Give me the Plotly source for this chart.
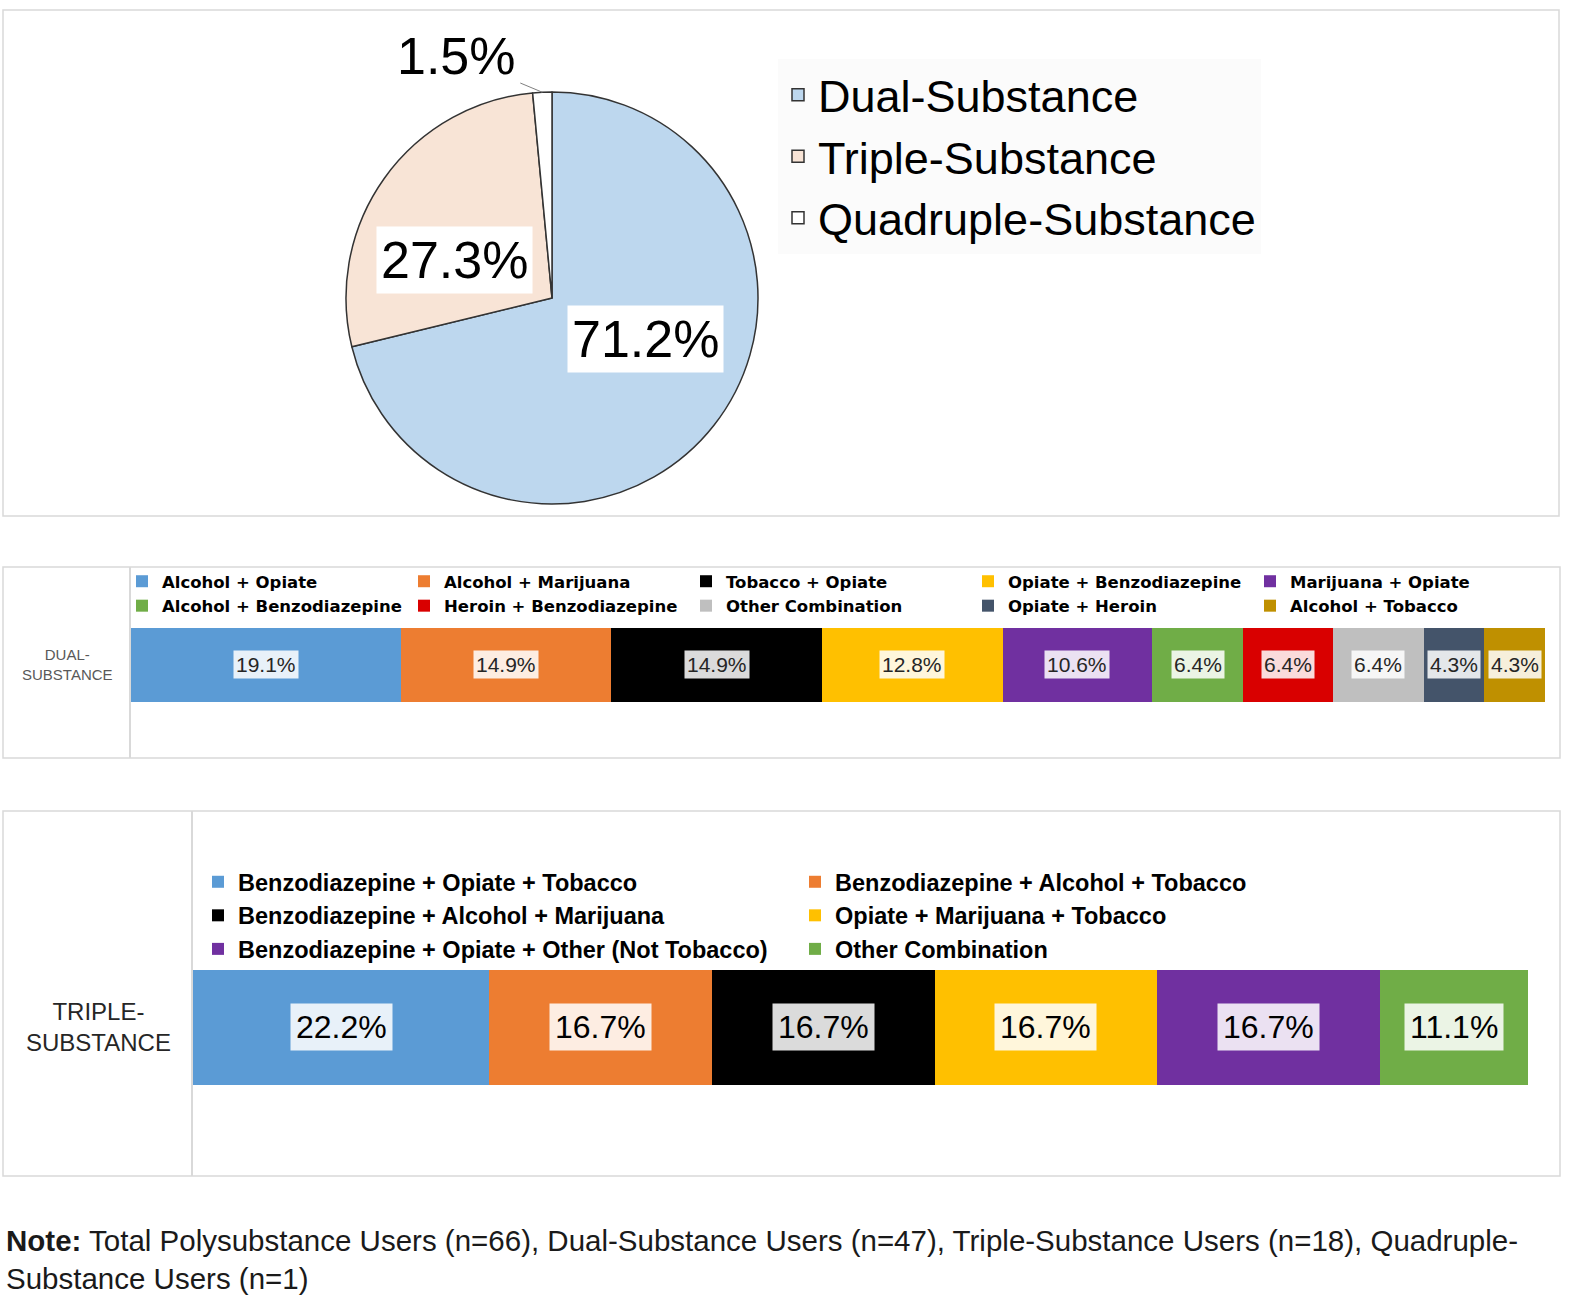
import math
import plotly.graph_objects as go

W, H = 1580, 1300

# ---------------- data ----------------
pie_labels = ["Dual-Substance", "Triple-Substance", "Quadruple-Substance"]
pie_values = [71.2, 27.3, 1.5]
pie_colors = ["#BDD7EE", "#F8E4D6", "#FFFFFF"]

dual_category = "DUAL-SUBSTANCE"
dual_labels = ["Alcohol + Opiate", "Alcohol + Marijuana", "Tobacco + Opiate",
               "Opiate + Benzodiazepine", "Marijuana + Opiate",
               "Alcohol + Benzodiazepine", "Heroin + Benzodiazepine",
               "Other Combination", "Opiate + Heroin", "Alcohol + Tobacco"]
dual_values = [19.1, 14.9, 14.9, 12.8, 10.6, 6.4, 6.4, 6.4, 4.3, 4.3]
dual_colors = ["#5B9BD5", "#ED7D31", "#000000", "#FFC000", "#7030A0",
               "#70AD47", "#D90000", "#BFBFBF", "#44546A", "#BF9000"]

triple_category = "TRIPLE-SUBSTANCE"
triple_labels = ["Benzodiazepine + Opiate + Tobacco",
                 "Benzodiazepine + Alcohol + Tobacco",
                 "Benzodiazepine + Alcohol + Marijuana",
                 "Opiate + Marijuana + Tobacco",
                 "Benzodiazepine + Opiate + Other (Not Tobacco)",
                 "Other Combination"]
triple_values = [22.2, 16.7, 16.7, 16.7, 16.7, 11.1]
triple_colors = ["#5B9BD5", "#ED7D31", "#000000", "#FFC000", "#7030A0", "#70AD47"]

note_bold = "Note:"
note_line1 = ("Total Polysubstance Users (n=66), Dual-Substance Users (n=47), "
              "Triple-Substance Users (n=18), Quadruple-")
note_line2 = "Substance Users (n=1)"

# ---------------- helpers ----------------
def px(p):
    return p / W


def py(p):
    return 1 - p / H


FONT = "Liberation Sans, Arial, sans-serif"

# pie geometry (pixels)
PIE_CX, PIE_CY, PIE_R = 552, 298, 206

fig = go.Figure()

fig.add_trace(go.Pie(
    labels=pie_labels, values=pie_values, sort=False, direction="clockwise",
    rotation=0, textinfo="none", hoverinfo="label+percent",
    marker=dict(colors=pie_colors, line=dict(color="#333333", width=1.5)),
    domain=dict(x=[px(PIE_CX - PIE_R), px(PIE_CX + PIE_R)],
                y=[py(PIE_CY + PIE_R), py(PIE_CY - PIE_R)]),
    legend="legend",
))

for lab, v, c in zip(dual_labels, dual_values, dual_colors):
    fig.add_trace(go.Bar(
        x=[v], y=[dual_category], orientation="h", name=lab,
        marker=dict(color=c, line=dict(width=0)), width=0.387,
        xaxis="x", yaxis="y", legend="legend2",
    ))

for lab, v, c in zip(triple_labels, triple_values, triple_colors):
    fig.add_trace(go.Bar(
        x=[v], y=[triple_category], orientation="h", name=lab,
        marker=dict(color=c, line=dict(width=0)), width=0.315,
        xaxis="x2", yaxis="y2", legend="legend3",
    ))

annotations = []

# pie labels
total = sum(pie_values)
cum = 0.0
for v in pie_values:
    mid = (cum + v / 2) / total * 2 * math.pi
    cum += v
    s, c = math.sin(mid), math.cos(mid)
    if v / total > 0.05:
        annotations.append(dict(
            x=px(PIE_CX + 0.58 * PIE_R * s), y=py(PIE_CY - 0.32 * PIE_R * c),
            xref="paper", yref="paper", xanchor="center", yanchor="middle",
            text=f"{v:.1f}%", showarrow=False,
            font=dict(family=FONT, size=52, color="#000000"),
            bgcolor="#FFFFFF", borderpad=4))
    else:
        annotations.append(dict(
            x=px(PIE_CX + PIE_R * s), y=py(PIE_CY - PIE_R * c),
            xref="paper", yref="paper", xanchor="center", yanchor="middle",
            text=f"{v:.1f}%", showarrow=True,
            arrowhead=0, arrowwidth=1, arrowcolor="#808080", standoff=0,
            ax=-86, ay=-36,
            font=dict(family=FONT, size=52, color="#000000"),
            bgcolor="#FFFFFF", borderpad=4))

# bar labels
def bar_labels(values, category, xref, yref, size, pad, color):
    run = 0.0
    for v in values:
        annotations.append(dict(
            x=run + v / 2, y=category, xref=xref, yref=yref,
            xanchor="center", yanchor="middle",
            text=f"{v:.1f}%", showarrow=False,
            font=dict(family=FONT, size=size, color=color),
            bgcolor="rgba(255,255,255,0.86)", borderpad=pad))
        run += v


bar_labels(dual_values, dual_category, "x", "y", 21, 2, "#262626")
bar_labels(triple_values, triple_category, "x2", "y2", 32, 5, "#000000")

# category labels
annotations.append(dict(
    x=px(67), y=dual_category, xref="paper", yref="y",
    xanchor="center", yanchor="middle",
    text="DUAL-<br>SUBSTANCE", showarrow=False, align="center",
    font=dict(family=FONT, size=15, color="#595959")))
annotations.append(dict(
    x=px(98), y=triple_category, xref="paper", yref="y2",
    xanchor="center", yanchor="middle",
    text="TRIPLE-<br>SUBSTANCE", showarrow=False, align="center",
    font=dict(family=FONT, size=24, color="#262626")))

# note
annotations.append(dict(
    x=px(4), y=py(1259), xref="paper", yref="paper", xanchor="left",
    yanchor="middle", align="left", showarrow=False,
    text=f"<b>{note_bold}</b> {note_line1}<br>{note_line2}",
    font=dict(family=FONT, size=29.5, color="#1A1A1A")))

# panel borders
shapes = []
for (x0, y0, x1, y1) in [(3, 10, 1559, 516), (3, 567, 1560, 758), (3, 811, 1560, 1176)]:
    shapes.append(dict(type="rect", xref="paper", yref="paper",
                       x0=px(x0), x1=px(x1), y0=py(y1), y1=py(y0),
                       line=dict(color="#D9D9D9", width=1.5), layer="below"))

fig.update_layout(
    width=W, height=H, margin=dict(l=0, r=0, t=0, b=0),
    template="none", paper_bgcolor="#FFFFFF", plot_bgcolor="rgba(0,0,0,0)",
    barmode="stack", hovermode=False, showlegend=True,
    font=dict(family=FONT, color="#000000"),
    xaxis=dict(domain=[px(131), px(1545)], range=[0, sum(dual_values)],
               visible=False, fixedrange=True, anchor="y"),
    yaxis=dict(domain=[py(758), py(567)], type="category",
               range=[-0.487, 0.513], showline=True, linecolor="#D9D9D9",
               linewidth=1.5, showticklabels=False, ticks="", showgrid=False,
               zeroline=False, anchor="x"),
    xaxis2=dict(domain=[px(193), px(1528)], range=[0, sum(triple_values)],
                visible=False, fixedrange=True, anchor="y2"),
    yaxis2=dict(domain=[py(1176), py(811)], type="category",
                range=[-0.407, 0.593], showline=True, linecolor="#D9D9D9",
                linewidth=1.5, showticklabels=False, ticks="", showgrid=False,
                zeroline=False, anchor="x2"),
    legend=dict(x=px(778), y=py(59), xanchor="left", yanchor="top",
                orientation="v", bgcolor="#FBFBFB",
                font=dict(family=FONT, size=45, color="#000000")),
    legend2=dict(x=px(122), y=py(564), xanchor="left", yanchor="top",
                 orientation="h", entrywidth=237, entrywidthmode="pixels",
                 bgcolor="rgba(0,0,0,0)", traceorder="normal",
                 font=dict(family="DejaVu Sans, sans-serif", size=16.5,
                           color="#000000", weight="bold")),
    legend3=dict(x=px(198), y=py(860), xanchor="left", yanchor="top",
                 orientation="h", entrywidth=552, entrywidthmode="pixels",
                 bgcolor="rgba(0,0,0,0)", traceorder="normal",
                 font=dict(family=FONT, size=23.5, color="#000000",
                           weight="bold")),
    annotations=annotations,
    shapes=shapes,
)

# remove the default page margin so the figure fills the window from its corner
fig.write_html("out.html",
               config={"displayModeBar": False},
               post_script="document.body.style.margin='0';"
                           "document.body.style.overflow='hidden';")
